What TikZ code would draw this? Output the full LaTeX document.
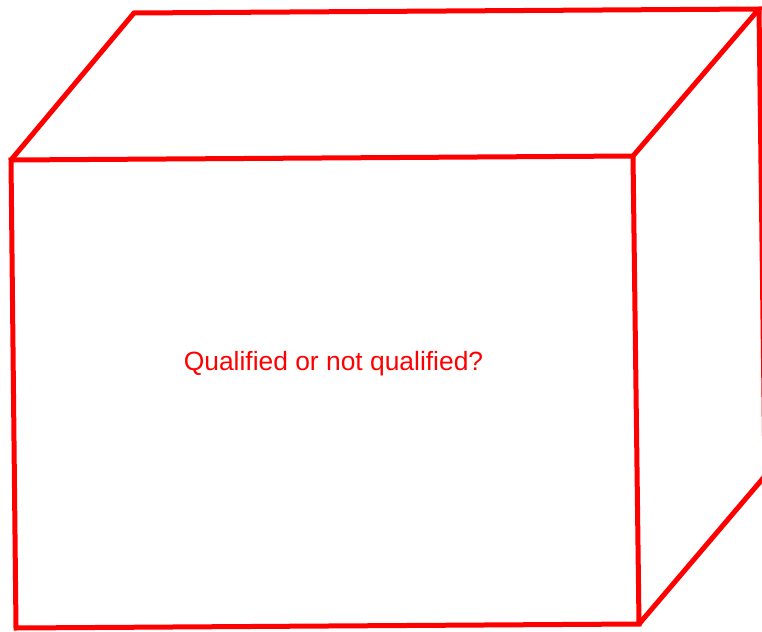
\documentclass[tikz,border=0pt]{standalone}
\usepackage{fontspec}
\setmainfont{Liberation Sans}
\usetikzlibrary{calc}
\definecolor{boxRed}{RGB}{255, 0, 0}

\begin{document}
\begin{tikzpicture}[x=1pt, y=-1pt,
          edge/.style={draw=boxRed, line width=5pt, line join=miter},
          qtext/.style={text=boxRed, inner sep=0pt, font=\fontsize{26.4}{30}\selectfont}
        ]
        \useasboundingbox (0,0) rectangle (762,631);
        % front face corners
        \coordinate (ftl) at (11,160);
        \coordinate (ftr) at (633,156);
        \coordinate (fbr) at (639,624);
        \coordinate (fbl) at (16,628);
        % back corners
        \coordinate (btl) at (134,13);
        \coordinate (btr) at (759,9);
        \coordinate (bbr) at (765,476);

        \draw[edge] (ftl) -- (ftr) -- (fbr) -- (fbl) -- cycle;
        \draw[edge] (ftl) -- (btl) -- (btr) -- (ftr);
        \draw[edge] (btr) -- (bbr) -- (fbr);

        \node[qtext, anchor=base] (question) at (333.5,370) {Qualified or not qualified?};
      \end{tikzpicture}
\end{document}
